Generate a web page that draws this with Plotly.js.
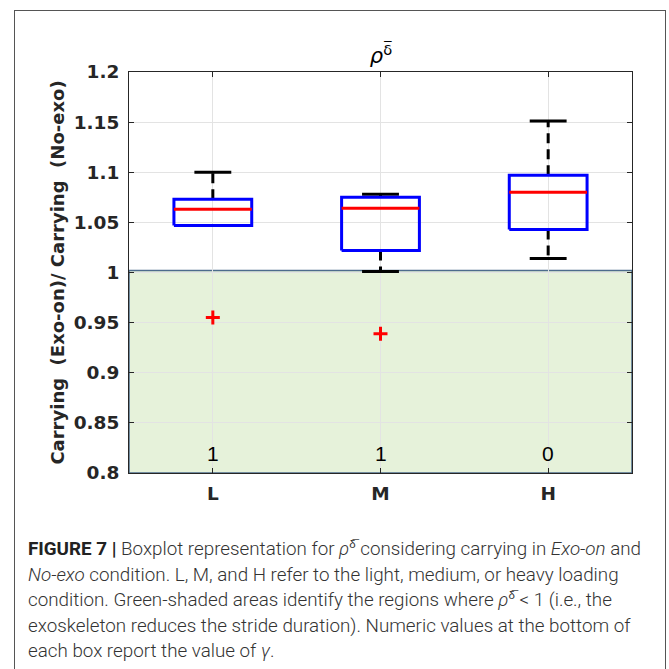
<!DOCTYPE html>
<html>
<head>
<meta charset="utf-8">
<script src="https://cdn.plot.ly/plotly-3.0.1.min.js"></script>
<style>
  html, body { margin:0; padding:0; background:#fff; width:669px; height:669px; overflow:hidden; }
  #wrap { position:relative; width:669px; height:669px; }
  #chart { position:absolute; left:0; top:0; width:669px; height:669px; }
  #frame { position:absolute; left:14px; top:10px; width:652px; height:700px; border:1.5px solid #555; box-sizing:border-box; pointer-events:none; }
  #caption { position:absolute; left:28px; top:536px; font-family:Roboto, "Liberation Sans", sans-serif; font-weight:300; font-size:18px; color:#333; line-height:25.5px; white-space:nowrap; transform-origin:0 0; }
  #caption .line { display:block; }
  #caption b { font-weight:700; color:#222; }
  #caption sup { font-size:11px; vertical-align:7px; line-height:0; }
</style>
</head>
<body>
<div id="wrap">
  <div id="chart"></div>
  <div id="frame"></div>
  <div id="caption">
    <span class="line" id="l1"><b>FIGURE 7 |</b> Boxplot representation for <i>ρ</i><sup>δ̅</sup> considering carrying in <i>Exo-on</i> and</span>
    <span class="line"><i>No-exo</i> condition. L, M, and H refer to the light, medium, or heavy loading</span>
    <span class="line">condition. Green-shaded areas identify the regions where <i>ρ</i><sup>δ̅</sup> &lt; 1 (i.e., the</span>
    <span class="line">exoskeleton reduces the stride duration). Numeric values at the bottom of</span>
    <span class="line">each box report the value of <i>γ</i>.</span>
  </div>
</div>
<script>
// ---- data ----
const categories = ['L', 'M', 'H'];
const q1 = [1.047, 1.022, 1.043];
const medians = [1.063, 1.064, 1.080];
const q3 = [1.073, 1.075, 1.097];
const lowerWhisker = [1.047, 1.001, 1.014];
const upperWhisker = [1.100, 1.078, 1.151];
const outliers = [0.955, 0.939, null];
const gammaCounts = ['1', '1', '0'];
const shadeRange = [0.8, 1.002];   // green region: rho < 1
const yTickVals = [0.8, 0.85, 0.9, 0.95, 1, 1.05, 1.1, 1.15, 1.2];

// ---- style ----
const boxHalf = 0.232, capHalf = 0.11;
const pos = categories.map((c, i) => i + 1);

function segs(fn) {
  const xs = [], ys = [];
  pos.forEach((p, i) => { const s = fn(p, i); if (!s) return; xs.push(...s[0], null); ys.push(...s[1], null); });
  return [xs, ys];
}

const whiskers = segs((p, i) => [[p, p, null, p, p], [q3[i], upperWhisker[i], null, q1[i], lowerWhisker[i]]]);
const caps = segs((p, i) => [[p - capHalf, p + capHalf, null, p - capHalf, p + capHalf], [upperWhisker[i], upperWhisker[i], null, lowerWhisker[i], lowerWhisker[i]]]);
const boxes = segs((p, i) => [[p - boxHalf, p + boxHalf, p + boxHalf, p - boxHalf, p - boxHalf], [q1[i], q1[i], q3[i], q3[i], q1[i]]]);
const meds = segs((p, i) => [[p - boxHalf, p + boxHalf], [medians[i], medians[i]]]);

const traces = [
  { x: whiskers[0], y: whiskers[1], mode: 'lines', line: { color: '#000', width: 3, dash: '10px,6px' }, hoverinfo: 'skip', showlegend: false },
  { x: caps[0], y: caps[1], mode: 'lines', line: { color: '#000', width: 3 }, hoverinfo: 'skip', showlegend: false },
  { x: boxes[0], y: boxes[1], mode: 'lines', line: { color: '#0000ff', width: 3 }, hoverinfo: 'skip', showlegend: false },
  { x: meds[0], y: meds[1], mode: 'lines', line: { color: '#ff0000', width: 3 }, hoverinfo: 'skip', showlegend: false },
  { x: pos, y: outliers, mode: 'markers', marker: { symbol: 'cross-thin', size: 10, line: { color: '#ff0000', width: 3 } }, hoverinfo: 'skip', showlegend: false }
];

const annotations = pos.map((p, i) => ({
  x: p, y: 0.806, xref: 'x', yref: 'y', text: gammaCounts[i], showarrow: false,
  yanchor: 'bottom', xanchor: 'center', font: { family: "'Liberation Sans', Arial, sans-serif", size: 21, color: '#000' }
}));

const tickFont = { family: "'DejaVu Sans'", size: 18.5, color: '#262626', weight: 'bold' };

const layout = {
  width: 669, height: 669,
  margin: { l: 129, r: 37, t: 72, b: 196 },
  paper_bgcolor: 'rgba(0,0,0,0)', plot_bgcolor: '#fff',
  showlegend: false,
  title: { text: '<i>ρ</i><sup>δ̅</sup>', x: 381 / 669, xref: 'container', xanchor: 'center', y: 1 - 56 / 669, yref: 'container', yanchor: 'middle',
           font: { family: "'DejaVu Sans'", size: 21, color: '#000' } },
  xaxis: {
    range: [0.5, 3.5], tickvals: pos, ticktext: categories, tickfont: tickFont,
    showgrid: true, gridcolor: '#e3e3e3', gridwidth: 1, zeroline: false,
    showline: true, linecolor: '#262626', linewidth: 1, mirror: 'ticks',
    ticks: 'inside', ticklen: 5, tickcolor: '#262626', ticklabelstandoff: 4
  },
  yaxis: {
    range: [0.8, 1.2], tickvals: yTickVals, tickfont: tickFont,
    showgrid: true, gridcolor: '#e3e3e3', gridwidth: 1, zeroline: false,
    showline: true, linecolor: '#262626', linewidth: 1, mirror: 'ticks',
    ticks: 'inside', ticklen: 5, tickcolor: '#262626', ticklabelstandoff: 5,
    title: { text: 'Carrying  (Exo-on)/ Carrying  (No-exo)', standoff: 4, font: { family: "'DejaVu Sans'", size: 18, color: '#262626', weight: 'bold' } }
  },
  shapes: [{
    type: 'rect', layer: 'below', xref: 'paper', x0: 0, x1: 1, yref: 'y', y0: shadeRange[0], y1: shadeRange[1],
    fillcolor: '#e6f2da', line: { color: '#4d6c8c', width: 1.5 }
  }],
  annotations: annotations
};

Plotly.newPlot('chart', traces, layout, { staticPlot: true, displayModeBar: false }).then(() => {
  const cap = document.getElementById('caption');
  const l1 = document.getElementById('l1');
  l1.style.display = 'inline-block';
  const w = l1.getBoundingClientRect().width;
  l1.style.display = 'block';
  const s = 613 / w;
  cap.style.transform = 'scaleX(' + s + ')';
});
</script>
</body>
</html>
